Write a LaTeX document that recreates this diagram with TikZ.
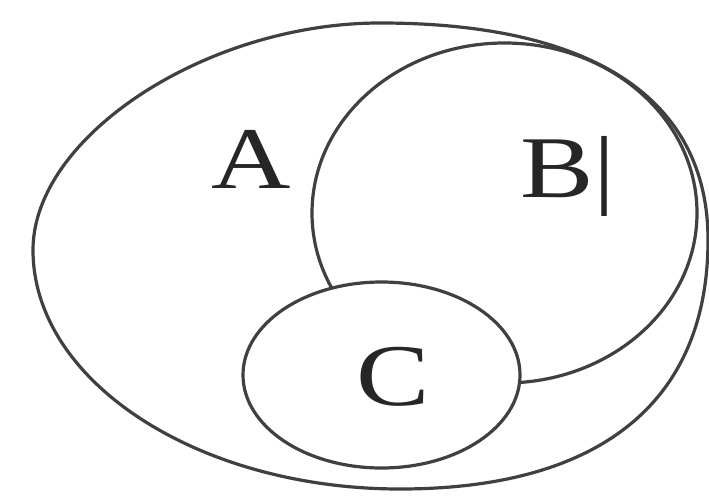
\documentclass[tikz,border=0pt]{standalone}
\usepackage{fontspec}
\setmainfont{Liberation Serif}
\begin{document}
\begin{tikzpicture}[x=1pt,y=-1pt,
  setline/.style={line width=3.2pt, draw=black!75},
  lbl/.style={inner sep=0pt, anchor=base west, font=\fontsize{88}{100}\selectfont, text=black!85}]
\useasboundingbox (0,0) rectangle (709,495);
\fill[white] (0,0) rectangle (709,495);
% outer set A
\draw[setline] (33,250)
   .. controls (33,136.5) and (206.5,23) .. (380,23)
   .. controls (593,23) and (708,99) .. (708,240)
   .. controls (708,402) and (600,489) .. (400,489)
   .. controls (198,489) and (33,381.5) .. (33,250) -- cycle;
% set B
\draw[setline] (504.5,213) ellipse [x radius=192.5, y radius=170];
% set C (covers B inside it)
\draw[setline, fill=white] (381.5,375) ellipse [x radius=138.5, y radius=93];
\node[lbl] (la) at (211,188) {\scalebox{1.25}[1]{A}};
\node[lbl] (lb) at (520,197) {\scalebox{1.25}[1]{B|}};
\node[lbl] (lc) at (356,405) {\scalebox{1.25}[1]{C}};
\end{tikzpicture}
\end{document}
